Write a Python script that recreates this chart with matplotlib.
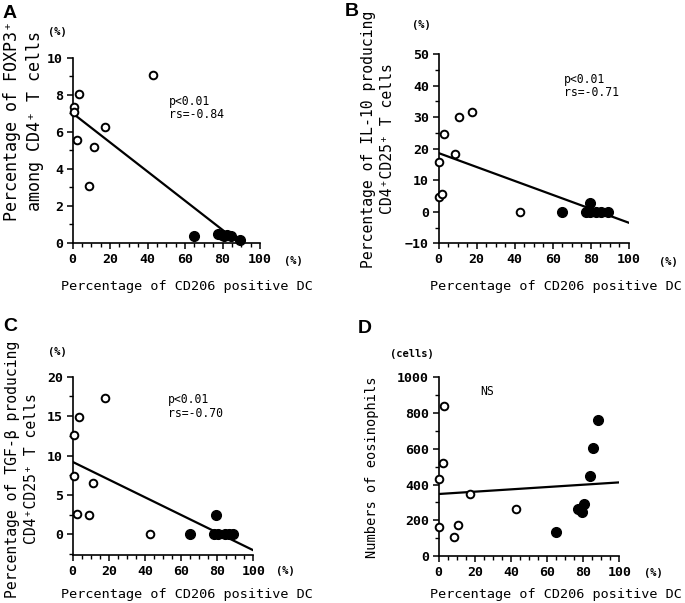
import matplotlib
matplotlib.use("Agg")
import matplotlib.pyplot as plt
from matplotlib.ticker import MultipleLocator

# data
a_open_x = [0.5, 0.5, 3.5, 2.5, 17.5, 11.5, 8.8, 43.0]
a_open_y = [7.33, 7.09, 8.05, 5.57, 6.27, 5.17, 3.05, 9.05]
a_fill_x = [65.0, 77.8, 79.5, 81.0, 82.5, 84.5, 89.5]
a_fill_y = [0.36, 0.47, 0.42, 0.40, 0.45, 0.40, 0.15]
a_fit_x = [0, 82]
a_fit_y = [7.0, 0.55]

b_open_x = [0.3, 0.3, 2.0, 3.0, 8.5, 10.8, 17.5, 42.8]
b_open_y = [15.7, 4.6, 5.5, 24.5, 18.4, 30.1, 31.7, 0.0]
b_fill_x = [65.0, 77.6, 79.7, 79.7, 82.5, 85.5, 89.0]
b_fill_y = [0.0, 0.0, 2.8, 0.0, 0.0, 0.0, 0.0]
b_fit_x = [0, 100]
b_fit_y = [18.6, -3.5]

c_open_x = [0.5, 0.5, 3.5, 2.5, 9.0, 11.3, 18.0, 42.8]
c_open_y = [12.6, 7.44, 14.9, 2.66, 2.45, 6.55, 17.3, 0.0]
c_fill_x = [65.0, 78.0, 79.5, 80.5, 84.5, 86.5, 89.0]
c_fill_y = [0.0, 0.0, 2.45, 0.0, 0.0, 0.0, 0.0]
c_fit_x = [0, 100]
c_fit_y = [9.2, -2.0]

d_open_x = [0.3, 0.3, 2.2, 3.0, 8.3, 10.8, 17.6, 42.8]
d_open_y = [430, 164, 522, 840, 104, 173, 347, 261]
d_fill_x = [64.8, 77.3, 79.2, 80.4, 83.8, 85.6, 88.4]
d_fill_y = [136, 261, 248, 291, 450, 603, 761]
d_fit_x = [0, 100]
d_fit_y = [347, 412]

xlabel = "Percentage of CD206 positive DC"
mono = "DejaVu Sans Mono"

fig = plt.figure(figsize=(6.85, 6.03), dpi=100)


def make_panel(rect, ox, oy, fx, fy, lx, ly, ylim, ymaj, ymin,
               ylab, ylab_xy, ylab_size, unit, unit_xy,
               stat, stat_xy, xlab_xy, xunit_xy):
    ax = fig.add_axes(rect)
    ax.plot(lx, ly, color="black", lw=1.6, zorder=2)
    ax.plot(ox, oy, "o", ms=5.5, mfc="white", mec="black", mew=1.4,
            clip_on=False, zorder=3)
    ax.plot(fx, fy, "o", ms=7, mfc="black", mec="black",
            clip_on=False, zorder=3)
    ax.set_xlim(0, 100)
    ax.set_ylim(*ylim)
    ax.spines["top"].set_visible(False)
    ax.spines["right"].set_visible(False)
    ax.spines["left"].set_linewidth(1.2)
    ax.spines["bottom"].set_linewidth(1.2)
    ax.xaxis.set_major_locator(MultipleLocator(20))
    ax.xaxis.set_minor_locator(MultipleLocator(5))
    ax.yaxis.set_major_locator(MultipleLocator(ymaj))
    ax.yaxis.set_minor_locator(MultipleLocator(ymin))
    ax.tick_params(which="major", direction="out", length=4, width=1.1,
                   labelsize=9.5, pad=3)
    ax.tick_params(which="minor", direction="out", length=3, width=1.0)
    for t in ax.get_xticklabels() + ax.get_yticklabels():
        t.set_fontfamily(mono)
        t.set_fontweight("bold")
    ax.text(ylab_xy[0], ylab_xy[1], ylab, transform=ax.transAxes,
            rotation=90, ha="center", va="center", fontsize=ylab_size,
            family=[mono, "DejaVu Sans"], linespacing=1.3)
    ax.text(xlab_xy[0], xlab_xy[1], xlabel, transform=ax.transAxes,
            ha="center", va="center", fontsize=9.7, family=mono)
    ax.text(unit_xy[0], unit_xy[1], unit, transform=ax.transAxes,
            ha="center", va="center", fontsize=7.5, family=mono,
            fontweight="bold")
    ax.text(xunit_xy[0], xunit_xy[1], "(%)", transform=ax.transAxes,
            ha="center", va="center", fontsize=7.5, family=mono,
            fontweight="bold")
    ax.text(stat_xy[0], stat_xy[1], stat, ha="left", va="top",
            fontsize=8.3, family=mono, linespacing=1.05)
    return ax


make_panel([0.1061, 0.597, 0.2734, 0.3073],
           a_open_x, a_open_y, a_fill_x, a_fill_y, a_fit_x, a_fit_y,
           (0, 10), 2, 1,
           "Percentage of FOXP3\u207a\namong CD4\u207a T cells", (-0.263, 0.658), 12,
           "(%)", (-0.084, 1.139),
           "p<0.01\nrs=-0.84", (51.5, 8.0),
           (0.61, -0.237), (1.18, -0.097))

make_panel([0.6404, 0.5965, 0.2778, 0.3139],
           b_open_x, b_open_y, b_fill_x, b_fill_y, b_fit_x, b_fit_y,
           (-10, 50), 10, 5,
           "Percentage of IL-10 producing\nCD4\u207aCD25\u207a T cells", (-0.319, 0.551), 10.6,
           "(%)", (-0.09, 1.153),
           "p<0.01\nrs=-0.71", (66, 44),
           (0.616, -0.23), (1.205, -0.1))

make_panel([0.1061, 0.0796, 0.2637, 0.2957],
           c_open_x, c_open_y, c_fill_x, c_fill_y, c_fit_x, c_fit_y,
           (-2.6, 20), 5, 2.5,
           "Percentage of TGF-\u03b2 producing\nCD4\u207aCD25\u207a T cells", (-0.281, 0.482), 10.6,
           "(%)", (-0.087, 1.139),
           "p<0.01\nrs=-0.70", (52.5, 17.9),
           (0.63, -0.224), (1.176, -0.09))

make_panel([0.6404, 0.0779, 0.2637, 0.2964],
           d_open_x, d_open_y, d_fill_x, d_fill_y, d_fit_x, d_fit_y,
           (0, 1000), 200, 100,
           "Numbers of eosinophils", (-0.369, 0.498), 9.8,
           "(cells)", (-0.147, 1.133),
           "NS", (23, 957),
           (0.65, -0.213), (1.188, -0.095))

for letter, x, y in [("A", 3, 5), ("B", 345, 3), ("C", 3, 318), ("D", 358, 320)]:
    fig.text(x / 685, 1 - y / 603, letter, ha="left", va="top",
             fontsize=14, fontweight="bold", family="Liberation Sans")

fig.savefig("out.png", dpi=100)
